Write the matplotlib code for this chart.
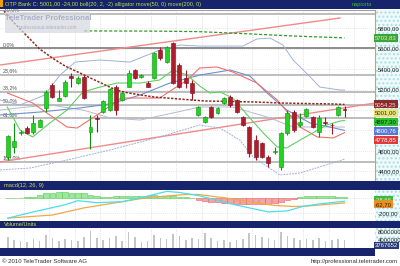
import matplotlib
matplotlib.use("Agg")
import matplotlib.pyplot as plt
import matplotlib.transforms as mtransforms
from matplotlib.patches import Rectangle
import numpy as np

plt.rcParams["font.family"] = ["Liberation Sans", "DejaVu Sans"]

W, H = 400, 266
NAVY = "#17236b"

# ---- data: trading-day index, 0 = 2010-07-05 (OTP Bank, daily)
days = list(range(-3, 51))
opens = [4541, 4636, 4775, 4827, 4788, 4837, 5017, 5244, 5091, 5137, 5332, 5263, 5322, 4788,
         4925, 4983, 5000, 5227, 5098, 5227, 5390, 5319, 5263, 5312, 5585, 5468, 5654, 5439,
         5312, 5263, 4951, 4883, 5029, 4971, 5068, 5127, 5098, 4932, 4834, 4707, 4678, 4541,
         4590, 4444, 4776, 4980, 4854, 4941, 4932, 4785, 4883, 4858, 4951, 5010]
highs = [4760, 4873, 4800, 4840, 4951, 4915, 5200, 5262, 5195, 5290, 5361, 5330, 5345, 4951,
         4951, 5100, 5215, 5240, 5175, 5390, 5400, 5350, 5280, 5570, 5615, 5625, 5663, 5460,
         5390, 5293, 5040, 4945, 5040, 5030, 5130, 5146, 5110, 4945, 4840, 4756, 4690, 4561,
         4639, 4785, 5000, 5000, 4971, 5020, 4945, 4951, 4932, 4873, 5035, 5040]
lows = [4510, 4583, 4760, 4765, 4766, 4830, 4980, 5120, 5085, 5130, 5227, 5255, 5105, 4617,
        4788, 4975, 4990, 4951, 5090, 5220, 5300, 5312, 5220, 5305, 5488, 5460, 5255, 5215,
        5215, 5098, 4940, 4875, 4925, 4965, 5060, 5029, 4970, 4845, 4541, 4512, 4530, 4444,
        4575, 4415, 4756, 4785, 4834, 4935, 4825, 4737, 4854, 4766, 4945, 4935]
closes = [4746, 4700, 4782, 4773, 4873, 4902, 5179, 5130, 5117, 5276, 5309, 5312, 5114, 4837,
          4915, 5091, 5202, 5000, 5166, 5358, 5309, 5341, 5227, 5556, 5507, 5615, 5263, 5224,
          5263, 5166, 5029, 4932, 4932, 5020, 5117, 5049, 4980, 4854, 4580, 4541, 4541, 4483,
          4600, 4776, 4971, 4805, 4883, 5010, 4834, 4922, 4873, 4850, 5025, 5001]
volumes = [5.5, 4.0, 3.5, 3.0, 4.5, 3.5, 6.5, 5.0, 3.5, 4.5, 4.0, 3.5, 5.5, 8.5, 5.0, 4.0, 5.0,
           6.0, 3.5, 8.0, 5.5, 3.0, 3.5, 6.5, 5.0, 4.5, 7.0, 6.0, 4.0, 5.0, 4.5, 7.5, 5.0, 3.5,
           4.0, 3.0, 4.0, 4.5, 7.5, 6.5, 5.5, 5.0, 4.0, 8.0, 6.0, 5.0, 4.0, 4.5, 4.0, 5.0, 3.5,
           4.0, 4.5, 3.767652]  # millions
macd_hist = [5, 8, 10, 15, 25, 45, 70, 80, 85, 85, 80, 80, 70, 55, 30, 25, 25, 30, 30, 30, 35,
             35, 40, 45, 40, 35, 30, 25, 15, 5, -15, -30, -45, -55, -60, -65, -70, -75, -80,
             -80, -75, -70, -60, -45, -20, -5, 20, 30, 35, 35, 35, 30, 25, 24]

# indicator lines: (day index, value)
ma50_x = [-4, -2, 0, 2, 4, 6, 8, 10, 12, 14, 16, 18, 20, 24, 28, 32, 36, 40, 44, 48, 50]
ma50_y = [5995, 5849, 5722, 5595, 5507, 5429, 5371, 5312, 5254, 5195, 5166, 5146, 5127, 5107,
          5088, 5083, 5078, 5068, 5063, 5059, 5054.25]
ma200_x = [9, 20, 27, 35, 42, 50]
ma200_y = [5772, 5770, 5765, 5743, 5722, 5703.83]
teeth_x = [-3.1, 0.9, 6.3, 7.9, 11.5, 14.8, 20.9, 25.2, 27.2, 29.9, 32.4, 36.2, 39.4, 43, 45.7, 48.2, 50]
teeth_y = [5166, 5068, 4834, 4824, 4971, 5117, 5117, 5293, 5410, 5420, 5371, 5263, 5098, 4834,
           4737, 4727, 4778.85]
lips_x = [-3.1, -1.1, 0.9, 3.6, 6.3, 8.8, 11.5, 14.2, 17.8, 20.9, 23, 25.2, 27.2, 28.8, 30.4,
          32.4, 35.1, 37.2, 39.4, 40.9, 43, 45, 47.2, 49.3, 50]
lips_y = [5029, 4805, 4737, 4873, 5000, 5176, 5224, 5263, 5263, 5293, 5390, 5342, 5234, 5166,
          5176, 5117, 4922, 4776, 4639, 4629, 4707, 4776, 4854, 4893, 4897.3]
jaw_x = [-4.25, 2, 8.3, 13.1, 17.8, 22.5, 27.2, 32, 35.1, 37.8, 40.9, 44.6, 47.7, 50]
jaw_y = [4951, 4980, 5020, 5059, 5146, 5263, 5341, 5390, 5332, 5166, 5000, 4873, 4834, 4800.76]
bmid_x = [-4.25, 0, 3.6, 8.8, 13.1, 17.8, 23, 27.2, 32.4, 37.8, 41.9, 50]
bmid_y = [5000, 5029, 5049, 5000, 4922, 4902, 4971, 5029, 5029, 4932, 4834, 4834]
bup_x = [-4.25, -1.1, 2.8, 5.2, 7.6, 11.5, 16.2, 20.9, 24.1, 27.2, 34, 36.2, 38.3, 40.3, 41.9,
         44.6, 46.1, 49.3, 50]
bup_y = [5098, 5049, 5146, 5341, 5468, 5488, 5468, 5585, 5634, 5624, 5624, 5693, 5702, 5634,
         5488, 5322, 5224, 5195, 5195]
blo_x = [-4.25, 0.5, 6.3, 13.1, 20.9, 27.2, 30.4, 33.5, 35.6, 39.8, 43, 50]
blo_y = [4415, 4434, 4512, 4610, 4737, 4854, 4824, 4707, 4541, 4366, 4385, 4520]
channel_hi = ([-4.25, 49.3], [5439, 5898])
channel_lo = ([-4.25, 54.8], [4493, 5068])
fib_top, fib_bottom = 5605, 4493
fib_levels = [-0.30, 0.0, 0.236, 0.382, 0.5, 0.618, 1.0]
fib_labels = ["-30,0%", "0,0%", "23,6%", "38,2%", "50,0%", "61,8%", "100,0%"]

macd_x = [-3, 1, 6, 8, 11, 15, 18, 22, 24, 27, 32, 35, 38, 41, 43, 44, 46, 48, 50]
macd_y = [-270, -185, -86, -30, -58, -44, 13, 98, 83, 41, -72, -129, -185, -171, -120, -100,
          -75, -55, -38.66]
signal_x = [-3, 4, 9, 14, 19, 25, 27, 32, 36, 39, 42, 44, 46, 48, 50]
signal_y = [-270, -228, -129, -58, 13, 55, 55, -1, -60, -95, -110, -105, -90, -75, -62.70]

date_pos = [-2.5, 0, 2, 4, 6, 8, 10, 12, 14, 16, 18, 20, 22, 24, 26, 28, 30, 32, 34, 36, 38,
            41, 43, 45, 47, 49, 51, 53]
date_text = ["10 júl", "05", "07", "09", "13", "15", "19", "21", "23", "27", "29", "aug.", "04",
             "06", "10", "12", "16", "18", "23", "25", "27", "szept.", "03", "07", "09", "13",
             "15", "17"]

price_ticks = [5800, 5600, 5400, 5200, 4600, 4400]   # 5000 / 4800 sit under the value tags
price_tags = [(5703.83, "5703,83", "#3aa63a", "#f0f0a0"),
              (5054.25, "5054,25", "#8a2a2a", "#f4d8d8"),
              (5001.00, "5001,00", "#ece27a", "#303000"),
              (4897.30, "4897,30", "#30c030", "#003000"),
              (4800.76, "4800,76", "#5878d8", "white"),
              (4778.85, "4778,85", "#e03a3a", "white")]

XLIM = (-4.25, 54.8)
GRID_X = np.arange(-0.5, 55, 4)


def px_axes(fig, x0, y0, x1, y1):
    return fig.add_axes([x0 / W, 1 - y1 / H, (x1 - x0) / W, (y1 - y0) / H])


def px_rect(fig, x0, y0, x1, y1, **kw):
    fig.add_artist(Rectangle((x0 / W, 1 - y1 / H), (x1 - x0) / W, (y1 - y0) / H,
                             transform=fig.transFigure, lw=0, **kw))


def style_panel(ax):
    ax.set_facecolor("white")
    for s in ax.spines.values():
        s.set_visible(False)
    ax.set_xlim(*XLIM)
    ax.set_xticks([])
    ax.yaxis.tick_right()
    ax.tick_params(axis="y", length=0, pad=2, labelsize=4.3, labelcolor="#202020")
    for gx in GRID_X:
        ax.axvline(gx, color="#c8c8c8", lw=0.5, ls=(0, (1, 2)), zorder=0)


def main():
    fig = plt.figure(figsize=(W / 100, H / 100), dpi=100)
    fig.patch.set_facecolor("white")

    # bars / backgrounds
    px_rect(fig, 0, 0, 400, 9, color=NAVY)
    px_rect(fig, 0, 0, 3, 7, color="#f0a000")
    px_rect(fig, 0, 181, 400, 190, color=NAVY)
    px_rect(fig, 0, 221, 400, 228, color=NAVY)
    px_rect(fig, 0, 248, 375, 256, color=NAVY)
    for y0, y1 in [(10, 181), (190, 221), (228, 248)]:
        fig.add_artist(Rectangle((375 / W, 1 - y1 / H), 25 / W, (y1 - y0) / H,
                                 transform=fig.transFigure, fc="#eefafb", ec="#a8dfe6",
                                 hatch="....", lw=0, zorder=-5))

    fig.text(5 / W, 1 - 4.6 / H,
             "OTP Bank C: 5001,00 -24,00 boll(20, 2, -2) alligator move(50, 0) move(200, 0)",
             color="#b8e04a", fontsize=4.1, va="center", ha="left")
    fig.text(352 / W, 1 - 4.6 / H, "napiorta", color="#30c030", fontsize=4.1, va="center")
    fig.text(4 / W, 1 - 186 / H, "macd(12, 26, 9)", color="#c8e050", fontsize=4.1, va="center")
    fig.text(4 / W, 1 - 224.5 / H, "Volume/Units", color="#c8e050", fontsize=4.1, va="center")
    fig.text(2 / W, 1 - 261.5 / H, "© 2010 TeleTrader Software AG", color="#303030",
             fontsize=4.3, va="center")
    fig.text(398 / W, 1 - 261.5 / H, "http://professional.teletrader.com", color="#303030",
             fontsize=4.3, va="center", ha="right")

    # ---- main price panel
    ax = px_axes(fig, 0, 10, 375, 181)
    style_panel(ax)
    ax.spines["top"].set_visible(True)
    ax.spines["top"].set_color("#a0a0a0")
    ax.spines["right"].set_visible(True)
    ax.spines["right"].set_color("#e0a030")
    ax.spines["right"].set_linestyle((0, (1, 1)))
    ax.set_ylim(4307, 5976)
    ax.set_yticks(price_ticks)
    ax.set_yticklabels([f"{t:.2f}".replace(".", ",") for t in price_ticks])
    for t in np.arange(4400, 5801, 200):
        ax.axhline(t, color="#d0d0d0", lw=0.5, ls=(0, (1, 2)), zorder=0)

    blend = mtransforms.blended_transform_factory(ax.transAxes, ax.transData)
    for lv, lab in zip(fib_levels, fib_labels):
        p = fib_top - lv * (fib_top - fib_bottom)
        c = "#8c8c8c" if lv == 0.0 else "#bdbdbd"
        ax.axhline(p, color=c, lw=1.4, zorder=1)
        ax.text(0.008, p + 12, lab, transform=blend, fontsize=3.8, color="#505050",
                va="bottom", ha="left", zorder=2)

    ax.plot(*channel_hi, color="#f08a8a", lw=1.0, zorder=2)
    ax.plot(*channel_lo, color="#f08a8a", lw=1.0, zorder=2)

    ax.plot(bup_x, bup_y, color="#9fb2d6", lw=0.7, zorder=2)
    ax.plot(blo_x, blo_y, color="#9fb2d6", lw=0.7, ls=(0, (2, 1)), zorder=2)
    ax.plot(bmid_x, bmid_y, color="#b4bccc", lw=0.7, zorder=2)
    ax.plot(jaw_x, jaw_y, color="#6c90d0", lw=0.8, zorder=2)
    ax.plot(teeth_x, teeth_y, color="#f07070", lw=0.8, zorder=2)
    ax.plot(lips_x, lips_y, color="#60d060", lw=0.8, zorder=2)
    ax.plot(ma200_x, ma200_y, color="#2a9a2a", lw=0.9, ls=(0, (2.5, 1.5)), zorder=2)
    ax.plot(ma50_x, ma50_y, color="#8b2a1a", lw=1.1, ls=(0, (1.5, 1)), zorder=2)

    for d, o, h, l, c in zip(days, opens, highs, lows, closes):
        up = c >= o
        fc, ec = ("#22d422", "#109010") if up else ("#b01c2c", "#7a0f1a")
        ax.vlines(d, l, h, color=ec if up else "#a01828", lw=0.8, zorder=3)
        lo = min(o, c)
        ht = max(abs(c - o), 8)
        ax.add_patch(Rectangle((d - 0.31, lo), 0.62, ht, fc=fc, ec=ec, lw=0.4, zorder=4))

    # watermark
    ax.add_patch(Rectangle((5 / 375, 1 - 23 / 171), 85 / 375, 21 / 171, transform=ax.transAxes,
                           fc="#d6d8e0", ec="none", alpha=0.7, zorder=5))
    ax.text(48 / 375, 1 - 8 / 171, "TeleTrader Professional", transform=ax.transAxes,
            fontsize=5.6, fontweight="bold", color="#aab2c8", ha="center", va="center",
            zorder=6)
    ax.text(48 / 375, 1 - 17 / 171, "professional.teletrader.com", transform=ax.transAxes,
            fontsize=3.4, color="#aab2c8", ha="center", va="center", zorder=6)

    # value tags on the price axis, pushed apart so they don't overlap
    ytr = ax.get_yaxis_transform()
    min_gap = 8.8 * (5976 - 4307) / 171
    last = None
    for val, txt, bg, fg in price_tags:
        pos = val if last is None else min(val, last - min_gap)
        last = pos
        ax.text(1.0, pos, txt, transform=ytr, fontsize=4.3, color=fg, va="center", ha="left",
                bbox=dict(boxstyle="square,pad=0.25", fc=bg, ec="none"), zorder=10)

    # ---- MACD panel
    axm = px_axes(fig, 0, 190, 375, 221)
    style_panel(axm)
    axm.set_ylim(-310, 117)
    axm.set_yticks([-200])
    axm.set_yticklabels(["-200,00"])
    for t in (0, -200):
        axm.axhline(t, color="#d0d0d0", lw=0.5, ls=(0, (1, 2)), zorder=0)
    hcol = ["#9ee89e" if v >= 0 else "#f4a4a4" for v in macd_hist]
    hedge = ["#58c858" if v >= 0 else "#e06060" for v in macd_hist]
    axm.bar(days, macd_hist, width=0.9, color=hcol, edgecolor=hedge, lw=0.4, zorder=2)
    axm.plot(signal_x, signal_y, color="#f0a848", lw=0.9, zorder=3)
    axm.plot(macd_x, macd_y, color="#48e0f0", lw=0.9, zorder=3)
    ytm = axm.get_yaxis_transform()
    axm.text(1.0, -15, "-38,66", transform=ytm, fontsize=4.3, color="#f0f0a0", va="center",
             bbox=dict(boxstyle="square,pad=0.25", fc="#40b840", ec="none"), zorder=10)
    axm.text(1.0, -80, "-62,70", transform=ytm, fontsize=4.3, color="#402000", va="center",
             bbox=dict(boxstyle="square,pad=0.25", fc="#e89028", ec="none"), zorder=10)

    # ---- volume panel
    axv = px_axes(fig, 0, 228, 375, 248)
    style_panel(axv)
    vols = np.array(volumes) * 1e6
    axv.set_ylim(0, 10.0e6)
    axv.set_yticks([8e6, 4e6])
    axv.set_yticklabels(["8000000", "4000000"])
    axv.bar(days, vols, width=0.25, color="#c4c4c4", lw=0, zorder=2)
    axv.text(1.0, 1.2e6, "3767652", transform=axv.get_yaxis_transform(), fontsize=4.3,
             color="white", va="center",
             bbox=dict(boxstyle="square,pad=0.2", fc="#2a3a7a", ec="none"), zorder=10)

    # ---- date band
    axd = px_axes(fig, 0, 248, 375, 256)
    axd.set_xlim(*XLIM)
    axd.set_ylim(0, 1)
    axd.axis("off")
    axd.add_patch(Rectangle((0, 0), 1, 1, transform=axd.transAxes, fc=NAVY, lw=0))
    for p, t in zip(date_pos, date_text):
        axd.text(p, 0.45, t, color="#e6e6e6", fontsize=4.3, ha="center", va="center")

    fig.savefig("out.png", dpi=100)


if __name__ == "__main__":
    main()
